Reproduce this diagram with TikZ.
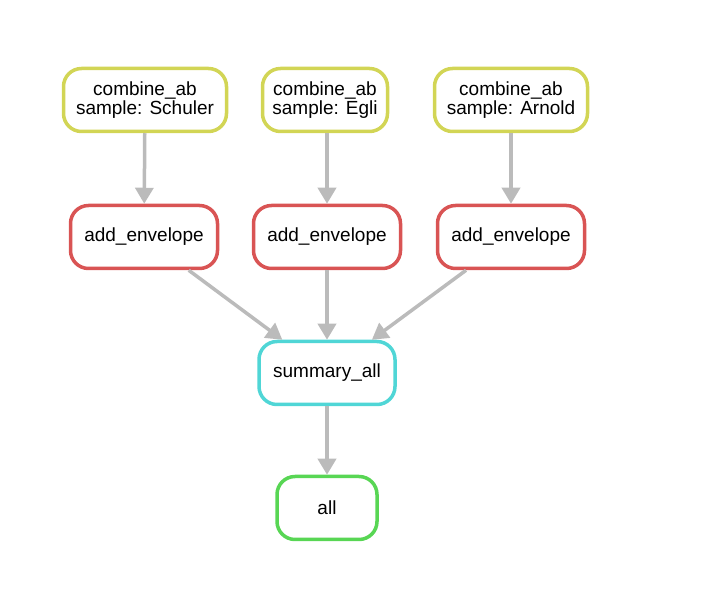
\documentclass[tikz,border=0pt]{standalone}
\usepackage{fontspec}
\setmainfont{Liberation Sans}
\usetikzlibrary{arrows.meta}
\definecolor{cyel}{RGB}{210,213,85}
\definecolor{cred}{RGB}{217,84,84}
\definecolor{ccyan}{RGB}{80,214,214}
\definecolor{cgreen}{RGB}{88,214,84}
\definecolor{cedge}{RGB}{187,187,187}
\tikzset{
  job/.style={draw, line width=3.5pt, rounded corners=18pt, fill=white, minimum height=63pt,
    align=center, font=\fontsize{19pt}{19.5pt}\selectfont, inner sep=0pt},
  flow/.style={draw=cedge, line width=3.5pt, -{Triangle[length=16pt,width=18pt]}, shorten >=0pt}
}
\begin{document}
\begin{tikzpicture}[x=1pt,y=-1pt]
\useasboundingbox (0,0) rectangle (713,609);
\node[job, draw=cyel, minimum width=163pt] (c1) at (145,100) {combine\_ab\\sample: Schuler};
\node[job, draw=cyel, minimum width=125pt] (c2) at (325,100) {combine\_ab\\sample: Egli};
\node[job, draw=cyel, minimum width=153pt] (c3) at (511,100) {combine\_ab\\sample: Arnold};
\node[job, draw=cred, minimum width=147pt] (a1) at (144,237) {add\_envelope};
\node[job, draw=cred, minimum width=147pt] (a2) at (327,237) {add\_envelope};
\node[job, draw=cred, minimum width=147pt] (a3) at (511,237) {add\_envelope};
\node[job, draw=ccyan, minimum width=136pt] (s) at (327,373) {summary\_all};
\node[job, draw=cgreen, minimum width=100pt] (al) at (327,508) {all};
\draw[flow] (c1) -- (a1);
\draw[flow] (c2.south -| a2) -- (a2);
\draw[flow] (c3) -- (a3);
\draw[flow] (a1) -- (s);
\draw[flow] (a2) -- (s);
\draw[flow] (a3) -- (s);
\draw[flow] (s) -- (al);
\end{tikzpicture}
\end{document}
